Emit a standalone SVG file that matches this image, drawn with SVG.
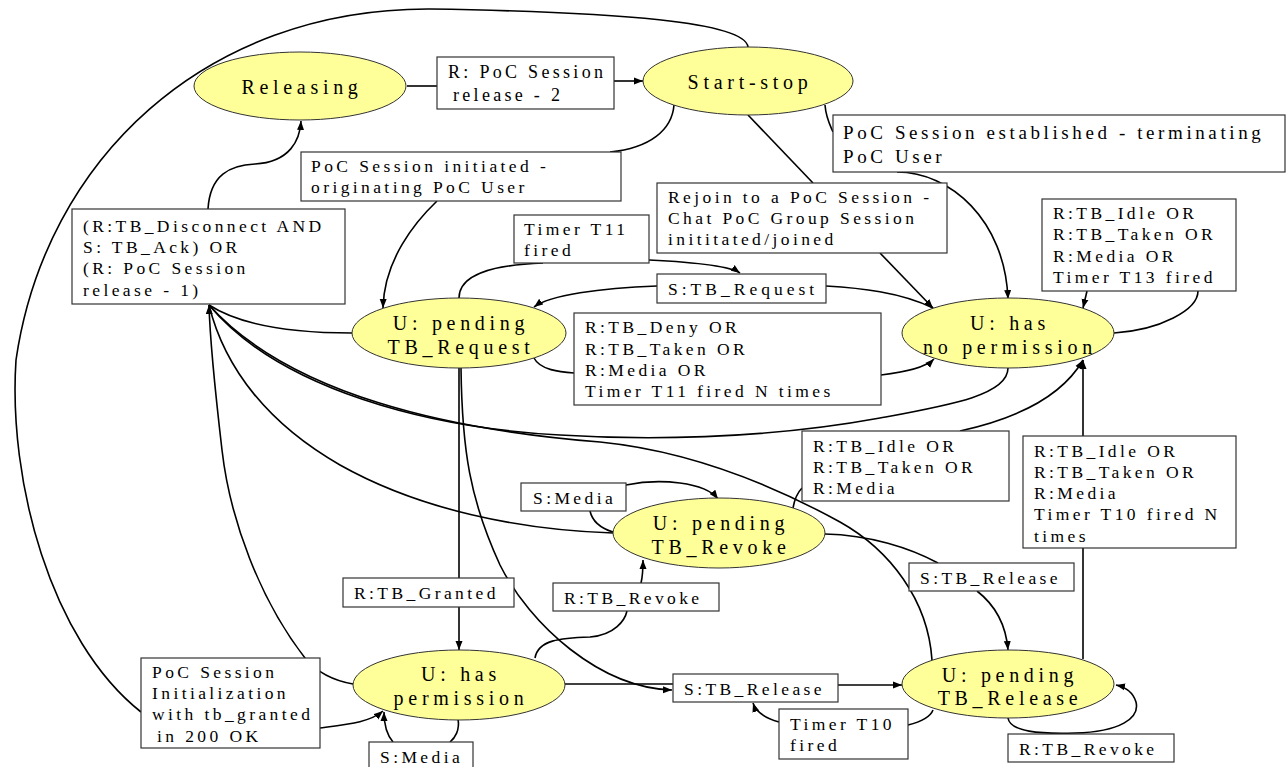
<svg xmlns="http://www.w3.org/2000/svg" width="1288" height="767" viewBox="0 0 1288 767">
<style>
.bg{fill:#ffffff}
.st ellipse{fill:#ffff99;stroke:#333;stroke-width:1}
.lb rect{fill:#ffffff;stroke:#333;stroke-width:1.2}
.c path{fill:none;stroke:#000;stroke-width:1.6}
text{font-family:"Liberation Serif","Times New Roman",serif;fill:#000}
.et{font-size:20px;letter-spacing:4.7px;text-anchor:middle}
.t{font-size:17.5px;letter-spacing:3.4px}
.t18{font-size:18px;letter-spacing:3.3px}
.t19{font-size:19px;letter-spacing:3.6px}
</style>
<defs>
<marker id="ah" markerWidth="10" markerHeight="8" refX="9" refY="4" orient="auto" markerUnits="userSpaceOnUse">
<path d="M0,0.5 L9,4 L0,7.5 z" fill="#000"/>
</marker>
</defs>
<rect class="bg" x="0" y="0" width="1288" height="767"/>

<g id="connectors" class="c">
<path d="M407,86 L437,86"/>
<path d="M614,81 L643,81" marker-end="url(#ah)"/>
<path d="M748,47 C745,22 620,12 430,9 C205,8 45,160 16,360 C8,480 50,640 141,712"/>
<path d="M320,728 C350,724 370,722 383,711" marker-end="url(#ah)"/>
<path d="M674,105 C672,130 650,148 610,152"/>
<path d="M437,201 C415,222 384,260 383,308" marker-end="url(#ah)"/>
<path d="M825,105 C826,118 830,125 833,132"/>
<path d="M897,172 C950,172 1005,220 1008,299" marker-end="url(#ah)"/>
<path d="M748,115 L813,183"/>
<path d="M880,253 L933,308" marker-end="url(#ah)"/>
<path d="M459,298 C459,275 490,265 543,263"/>
<path d="M649,260 C690,262 730,266 740,273" marker-end="url(#ah)"/>
<path d="M933,308 C900,292 860,288 826,286"/>
<path d="M657,286 C600,288 550,295 534,307" marker-end="url(#ah)"/>
<path d="M534,358 C540,370 560,372 574,373"/>
<path d="M881,375 C905,372 925,368 934,359" marker-end="url(#ah)"/>
<path d="M1114,333 C1160,330 1198,310 1198,291"/>
<path d="M1087,291 L1083,308" marker-end="url(#ah)"/>
<path d="M208,209 C210,175 230,165 255,164 C290,162 300,140 301,121" marker-end="url(#ah)"/>
<path d="M352,333 C290,333 240,325 209,305"/>
<path d="M1008,368 C1008,395 950,405 880,418 C760,440 640,440 560,435 C430,428 280,390 209,305"/>
<path d="M932,660 C928,600 890,550 840,522 C760,478 680,450 600,442 C450,430 290,395 209,305"/>
<path d="M613,533 C520,530 420,510 340,465 C270,425 225,370 209,305"/>
<path d="M353,684 C330,680 315,670 305,658 C260,600 230,520 222,450 C215,390 210,340 209,305" marker-end="url(#ah)"/>
<path d="M459,368 L459,578"/>
<path d="M459,607 L459,650" marker-end="url(#ah)"/>
<path d="M461,368 C462,450 470,500 500,565 C530,625 600,688 672,690" marker-end="url(#ah)"/>
<path d="M565,684 L673,684"/>
<path d="M838,685 L902,685" marker-end="url(#ah)"/>
<path d="M779,722 C765,718 756,712 753,703" marker-end="url(#ah)"/>
<path d="M933,710 C930,718 920,722 908,725"/>
<path d="M1008,718 C1010,732 1040,734 1075,733 C1120,732 1140,718 1136,702 C1133,692 1125,687 1116,685" marker-end="url(#ah)"/>
<path d="M1083,659 L1083,548"/>
<path d="M1083,436 L1083,360" marker-end="url(#ah)"/>
<path d="M535,658 C538,640 560,638 590,637 C615,635 625,620 627,611"/>
<path d="M641,583 C643,575 643,568 643,560" marker-end="url(#ah)"/>
<path d="M613,532 C600,528 592,520 590,511"/>
<path d="M626,485 C660,478 705,482 718,499" marker-end="url(#ah)"/>
<path d="M793,508 C795,497 798,492 802,488"/>
<path d="M960,431 C1010,420 1060,400 1083,360" marker-end="url(#ah)"/>
<path d="M825,534 C870,535 910,548 938,563"/>
<path d="M977,591 C995,605 1006,625 1008,650" marker-end="url(#ah)"/>
<path d="M458,719 C460,730 455,738 450,742"/>
<path d="M393,742 C387,735 384,725 384,712" marker-end="url(#ah)"/>
</g>

<g id="releasing" class="st"><ellipse cx="300" cy="86" rx="106" ry="34"/><text class="et" x="302" y="94">Releasing</text></g>
<g id="start-stop" class="st"><ellipse cx="748" cy="81" rx="105" ry="34"/><text class="et" x="750" y="89">Start-stop</text></g>
<g id="pending-tb-request" class="st"><ellipse cx="459" cy="333" rx="107" ry="35"/><text class="et" x="461" y="330">U: pending</text><text class="et" x="461" y="354">TB_Request</text></g>
<g id="has-no-permission" class="st"><ellipse cx="1008" cy="333" rx="106" ry="35"/><text class="et" x="1010" y="330">U: has</text><text class="et" x="1010" y="354">no permission</text></g>
<g id="pending-tb-revoke" class="st"><ellipse cx="719" cy="533" rx="106" ry="35"/><text class="et" x="721" y="530">U: pending</text><text class="et" x="721" y="554">TB_Revoke</text></g>
<g id="has-permission" class="st"><ellipse cx="459" cy="685" rx="106" ry="35"/><text class="et" x="461" y="681">U: has</text><text class="et" x="461" y="705">permission</text></g>
<g id="pending-tb-release" class="st"><ellipse cx="1008" cy="684" rx="106" ry="34"/><text class="et" x="1010" y="682">U: pending</text><text class="et" x="1010" y="705">TB_Release</text></g>

<g id="lbl-release2" class="lb"><rect x="437" y="57" width="177" height="52"/><text class="t18" x="448" y="78">R: PoC Session</text><text class="t18" x="453" y="101">release - 2</text></g>
<g id="lbl-established" class="lb"><rect x="833" y="115" width="452" height="57"/><text class="t19" x="843" y="139">PoC Session established - terminating</text><text class="t19" x="843" y="163">PoC User</text></g>
<g id="lbl-initiated" class="lb"><rect x="301" y="152" width="320" height="49"/><text class="t" x="311" y="172">PoC Session initiated -</text><text class="t" x="311" y="193">originating PoC User</text></g>
<g id="lbl-rejoin" class="lb"><rect x="657" y="183" width="290" height="70"/><text class="t" x="668" y="203">Rejoin to a PoC Session -</text><text class="t" x="668" y="224">Chat PoC Group Session</text><text class="t" x="668" y="245">inititated/joined</text></g>
<g id="lbl-t11" class="lb"><rect x="514" y="215" width="135" height="48"/><text class="t" x="524" y="235">Timer T11</text><text class="t" x="524" y="256">fired</text></g>
<g id="lbl-s-request" class="lb"><rect x="657" y="274" width="169" height="29"/><text class="t" x="668" y="295" style="letter-spacing:4px">S:TB_Request</text></g>
<g id="lbl-deny" class="lb"><rect x="574" y="313" width="307" height="92"/><text class="t" x="585" y="333">R:TB_Deny OR</text><text class="t" x="585" y="355">R:TB_Taken OR</text><text class="t" x="585" y="376">R:Media OR</text><text class="t" x="585" y="397">Timer T11 fired N times</text></g>
<g id="lbl-t13" class="lb"><rect x="1042" y="199" width="194" height="92"/><text class="t" x="1053" y="219">R:TB_Idle OR</text><text class="t" x="1053" y="240">R:TB_Taken OR</text><text class="t" x="1053" y="262">R:Media OR</text><text class="t" x="1053" y="283">Timer T13 fired</text></g>
<g id="lbl-disconnect" class="lb"><rect x="72" y="209" width="273" height="95"/><text class="t" x="83" y="232">(R:TB_Disconnect AND</text><text class="t" x="83" y="253">S: TB_Ack) OR</text><text class="t" x="83" y="274">(R: PoC Session</text><text class="t" x="83" y="296">release - 1)</text></g>
<g id="lbl-idle-mid" class="lb"><rect x="802" y="431" width="207" height="70"/><text class="t" x="813" y="452">R:TB_Idle OR</text><text class="t" x="813" y="473">R:TB_Taken OR</text><text class="t" x="813" y="494">R:Media</text></g>
<g id="lbl-t10n" class="lb"><rect x="1023" y="436" width="213" height="112"/><text class="t" x="1034" y="457">R:TB_Idle OR</text><text class="t" x="1034" y="478">R:TB_Taken OR</text><text class="t" x="1034" y="499">R:Media</text><text class="t" x="1034" y="520">Timer T10 fired N</text><text class="t" x="1034" y="542">times</text></g>
<g id="lbl-smedia-top" class="lb"><rect x="521" y="483" width="105" height="28"/><text class="t" x="533" y="504">S:Media</text></g>
<g id="lbl-s-release-right" class="lb"><rect x="909" y="563" width="165" height="28"/><text class="t" x="920" y="584">S:TB_Release</text></g>
<g id="lbl-granted" class="lb"><rect x="343" y="578" width="171" height="29"/><text class="t" x="354" y="599">R:TB_Granted</text></g>
<g id="lbl-revoke-mid" class="lb"><rect x="553" y="583" width="166" height="28"/><text class="t" x="564" y="604">R:TB_Revoke</text></g>
<g id="lbl-s-release-bottom" class="lb"><rect x="673" y="674" width="165" height="28"/><text class="t" x="684" y="695">S:TB_Release</text></g>
<g id="lbl-t10" class="lb"><rect x="779" y="709" width="129" height="50"/><text class="t" x="790" y="730">Timer T10</text><text class="t" x="790" y="751">fired</text></g>
<g id="lbl-revoke-bottom" class="lb"><rect x="1008" y="734" width="166" height="28"/><text class="t" x="1019" y="755">R:TB_Revoke</text></g>
<g id="lbl-init" class="lb"><rect x="141" y="658" width="179" height="90"/><text class="t" x="152" y="678">PoC Session</text><text class="t" x="152" y="699">Initialization</text><text class="t" x="152" y="720">with tb_granted</text><text class="t" x="157" y="742">in 200 OK</text></g>
<g id="lbl-smedia-bottom" class="lb"><rect x="369" y="742" width="104" height="26"/><text class="t" x="380" y="763">S:Media</text></g>
</svg>
